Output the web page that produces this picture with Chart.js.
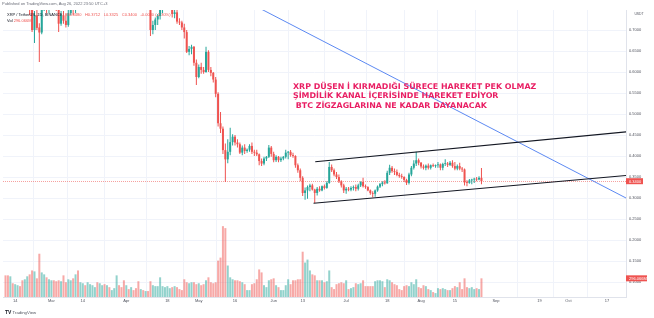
<!DOCTYPE html>
<html>
<head>
<meta charset="utf-8">
<script src="https://cdn.jsdelivr.net/npm/chart.js@4.4.1/dist/chart.umd.min.js"></script>
<style>
  body { margin: 0; background: #fff; }
  #wrap { position: relative; width: 654px; height: 318px; overflow: hidden; font-family: "Liberation Sans", Arial, sans-serif; }
  #chart { position: absolute; left: 0; top: 0; }
  .txt { position: absolute; white-space: pre; line-height: 1; }
  .dn { color: #ef5350; }
  #legend span { margin-left: 3.6px; }
  #note { left: 293px; top: 81.8px; font: bold 7.9px "DejaVu Sans", sans-serif; line-height: 9.6px; color: #e91e63; }
</style>
</head>
<body>
<div id="wrap">
  <canvas id="chart" width="654" height="318"></canvas>
  <div class="txt" style="left:2px;top:2px;font-size:4px;color:#6a6d78">Published on TradingView.com, Aug 26, 2022 23:50 UTC+3</div>
  <div class="txt" id="legend" style="left:7px;top:13px;font-size:4px;color:#131722"></div>
  <div class="txt" id="vol" style="left:7px;top:19px;font-size:4px;color:#131722"></div>
  <div class="txt" id="note">XRP DÜŞEN İ KIRMADIĞI SÜRECE HAREKET PEK OLMAZ
ŞİMDİLİK KANAL İÇERİSİNDE HAREKET EDİYOR
 BTC ZİGZAGLARINA NE KADAR DAYANACAK</div>
  <div class="txt" style="left:5px;top:310px;font-size:4.3px;color:#50535e"><b style="color:#131722;font-size:5px">TV</b> TradingView</div>
</div>
<script>
// daily candles, first one is Feb 10 2022, last one Aug 26 2022
const open = [
  .850,.808,.782,.800,.780,.810,.840,.815,.765,.775, .800,.750,.700,.735,.706,.694,.760,.770,.750,.785,
  .795,.780,.755,.715,.735,.722,.712,.740,.790,.755, .775,.760,.785,.790,.780,.800,.810,.815,.820,.810,
  .830,.845,.835,.850,.825,.830,.845,.855,.845,.835, .812,.825,.820,.830,.825,.815,.780,.790,.770,.780,
  .760,.700,.712,.725,.733,.748,.760,.770,.780,.790, .738,.742,.720,.718,.706,.695,.648,.655,.660,.622,
  .588,.612,.605,.600,.648,.605,.598,.582,.548,.478, .465,.414,.392,.410,.433,.446,.432,.428,.408,.420,
  .412,.415,.424,.410,.408,.404,.388,.382,.394,.398, .420,.405,.390,.398,.390,.394,.398,.408,.410,.402,
  .400,.378,.366,.348,.312,.318,.326,.330,.320,.312, .322,.318,.328,.324,.336,.374,.366,.356,.350,.340,
  .330,.318,.322,.320,.324,.326,.322,.330,.338,.328, .326,.318,.312,.310,.318,.327,.333,.337,.335,.360,
  .372,.364,.362,.355,.352,.350,.343,.336,.356,.372, .382,.390,.384,.375,.372,.377,.372,.378,.376,.378,
  .380,.372,.381,.382,.379,.384,.376,.370,.376,.370, .368,.337,.336,.342,.344,.345,.344,.348
];
const high = [
  .910,.835,.820,.815,.820,.850,.850,.830,.790,.810, .810,.765,.745,.760,.716,.770,.790,.785,.790,.815,
  .810,.790,.765,.745,.745,.740,.750,.800,.800,.785, .800,.790,.800,.800,.810,.825,.830,.830,.830,.845,
  .860,.850,.860,.860,.840,.850,.870,.870,.850,.850, .830,.840,.835,.840,.845,.820,.800,.800,.790,.790,
  .765,.722,.730,.738,.755,.770,.775,.785,.795,.800, .780,.750,.728,.722,.715,.700,.662,.665,.662,.630,
  .618,.622,.612,.660,.652,.612,.600,.588,.552,.505, .470,.430,.440,.467,.452,.450,.440,.432,.425,.428,
  .418,.428,.432,.415,.415,.406,.394,.398,.400,.426, .424,.410,.402,.400,.398,.400,.415,.412,.414,.408,
  .402,.382,.370,.352,.325,.330,.334,.334,.322,.326, .328,.330,.332,.340,.386,.380,.370,.362,.356,.342,
  .334,.326,.326,.328,.330,.332,.334,.340,.348,.332, .328,.320,.316,.320,.330,.336,.340,.342,.365,.379,
  .376,.370,.368,.360,.358,.352,.346,.360,.376,.390, .410,.394,.386,.380,.380,.382,.380,.382,.380,.386,
  .382,.384,.392,.386,.388,.390,.386,.380,.384,.374, .370,.342,.345,.346,.348,.350,.352,.3712
];
const low = [
  .800,.770,.770,.770,.760,.800,.800,.755,.750,.765, .735,.695,.669,.700,.624,.690,.745,.740,.740,.770,
  .770,.745,.695,.710,.715,.706,.708,.735,.735,.740, .750,.755,.760,.765,.770,.790,.790,.805,.795,.800,
  .820,.820,.825,.815,.815,.820,.830,.835,.825,.800, .795,.815,.810,.800,.810,.770,.765,.760,.765,.755,
  .686,.690,.700,.712,.725,.740,.752,.755,.770,.730, .728,.715,.712,.700,.680,.645,.640,.642,.615,.569,
  .585,.596,.596,.598,.600,.590,.575,.540,.470,.455, .405,.338,.383,.402,.425,.425,.420,.405,.402,.405,
  .408,.410,.405,.400,.400,.378,.376,.378,.388,.395, .398,.385,.386,.385,.386,.390,.394,.392,.398,.396,
  .372,.360,.340,.305,.296,.298,.316,.318,.288,.306, .315,.316,.320,.322,.334,.362,.352,.345,.336,.325,
  .312,.310,.316,.316,.318,.316,.318,.326,.325,.322, .316,.308,.302,.303,.315,.324,.328,.332,.334,.355,
  .360,.355,.352,.348,.346,.338,.331,.332,.352,.368, .376,.378,.370,.368,.366,.368,.368,.374,.372,.372,
  .366,.366,.376,.374,.376,.372,.366,.366,.366,.362, .330,.328,.334,.333,.336,.340,.342,.3325
];
const close = [
  .808,.782,.800,.780,.810,.840,.815,.765,.775,.800, .750,.700,.735,.705,.694,.760,.770,.750,.785,.795,
  .780,.755,.715,.735,.722,.712,.740,.790,.755,.775, .760,.785,.790,.780,.800,.810,.815,.820,.810,.830,
  .845,.835,.850,.825,.830,.845,.855,.845,.835,.812, .825,.820,.830,.825,.815,.780,.790,.770,.780,.760,
  .700,.712,.725,.733,.748,.760,.770,.780,.790,.738, .742,.720,.718,.706,.695,.648,.655,.660,.622,.588,
  .612,.605,.600,.648,.605,.598,.582,.548,.478,.465, .414,.392,.410,.433,.446,.432,.428,.408,.420,.412,
  .415,.424,.410,.408,.404,.388,.382,.394,.398,.420, .405,.390,.398,.390,.394,.398,.408,.410,.402,.400,
  .378,.366,.348,.312,.318,.326,.330,.320,.312,.322, .318,.328,.324,.336,.374,.366,.356,.350,.340,.330,
  .318,.322,.320,.324,.326,.322,.330,.338,.328,.326, .318,.312,.310,.318,.327,.333,.337,.335,.360,.372,
  .364,.362,.355,.352,.350,.343,.336,.356,.372,.382, .390,.384,.375,.372,.377,.372,.378,.376,.378,.380,
  .372,.381,.382,.379,.384,.376,.370,.376,.370,.368, .337,.336,.342,.344,.345,.344,.348,.340
];
// volume in millions
const volume = [
  343,343,328,218,203,187,172,265,281,328, 359,421,406,296,686,390,359,312,281,265,
  265,250,265,250,343,234,281,265,296,359, 421,234,218,187,234,203,187,156,234,218,
  187,203,187,156,109,140,343,187,156,265, 187,125,156,109,140,250,125,109,94,94,
  250,187,172,172,312,172,156,172,140,156, 172,156,125,109,281,234,218,234,234,203,
  218,187,203,265,312,234,218,234,577,624, 1123,1092,499,312,281,265,265,250,234,203,
  109,109,203,218,281,437,390,187,156,265, 281,296,187,156,109,109,187,281,203,265,
  265,281,281,718,546,593,421,359,343,265, 265,265,234,250,421,156,125,203,218,234,
  218,265,125,140,156,218,203,218,265,172, 172,172,172,250,265,265,250,156,281,265,
  234,203,187,125,109,172,187,172,234,203, 281,156,140,187,172,125,109,78,62,140,
  125,140,125,109,109,140,172,156,234,125, 296,156,140,156,125,140,125,296.066
];

const priceTicks = [0.1, 0.15, 0.2, 0.25, 0.3, 0.35, 0.4, 0.45, 0.5, 0.55, 0.6, 0.65, 0.7];
const tickDays = [4, 19, 32, 50, 67, 80, 95, 111, 123, 141, 158, 172, 186, 203, 221, 233, 249];
const tickLabels = ['14', 'Mar', '14', 'Apr', '18', 'May', '16', 'Jun', '13', 'Jul', '18', 'Aug', '15', 'Sep', '19', 'Oct', '17'];

// drawings on the chart (day index, price)
const channelTop = [{ x: 128.2, y: 0.3864 }, { x: 258, y: 0.4580 }];
const channelBottom = [{ x: 127.5, y: 0.2874 }, { x: 258, y: 0.3542 }];
const trendLine = [{ x: 103, y: 0.7583 }, { x: 258, y: 0.2965 }];

const UP = '#26a69a', DOWN = '#ef5350';
const isUp = i => close[i] >= open[i];

const last = close.length - 1;
const chg = close[last] - close[last - 1];
const f4 = v => v.toFixed(4);
document.getElementById('legend').innerHTML = 'XRP / TetherUS, 1D, BINANCE' +
  `<span class="dn">O${f4(open[last])}</span><span class="dn">H${f4(high[last])}</span>` +
  `<span class="dn">L${f4(low[last])}</span><span class="dn">C${f4(close[last])}</span>` +
  `<span class="dn">${f4(chg)} (${(chg / close[last - 1] * 100).toFixed(2)}%)</span>`;
document.getElementById('vol').innerHTML = `Vol <span class="dn">${volume[last].toFixed(3)}M</span>`;

const lastValue = {
  id: 'lastValue',
  beforeDatasetsDraw(chart) {
    const { ctx, chartArea: a, scales } = chart;
    const y = Math.round(scales.y.getPixelForValue(close[last])) + 0.5;
    ctx.save();
    ctx.strokeStyle = 'rgba(239,83,80,0.55)';
    ctx.lineWidth = 1;
    ctx.setLineDash([1, 1]);
    ctx.beginPath();
    ctx.moveTo(a.left, y);
    ctx.lineTo(a.right, y);
    ctx.stroke();
    ctx.restore();
  },
  afterDraw(chart) {
    const { ctx, chartArea: a, scales } = chart;
    const boxes = [
      [scales.y.getPixelForValue(close[last]), f4(close[last]), 17],
      [scales.vol.getPixelForValue(volume[last]), volume[last].toFixed(3) + 'M', 21]
    ];
    ctx.save();
    ctx.font = '4px "Liberation Sans"';
    ctx.textBaseline = 'middle';
    boxes.forEach(([y, text, w]) => {
      ctx.fillStyle = DOWN;
      ctx.fillRect(a.right, y - 3, w, 6);
      ctx.fillStyle = '#fff';
      ctx.fillText(text, a.right + 3, y + 0.3);
    });
    ctx.fillStyle = '#50535e';
    ctx.font = '3.4px "Liberation Sans"';
    ctx.textAlign = 'center';
    ctx.fillText('USDT', a.right + 13, 14);
    ctx.restore();
  }
};

const candles = open.map((o, i) => ({ x: i, y: [o, close[i]] }));
const wicks = open.map((o, i) => ({ x: i, y: [low[i], high[i]] }));
const vols = volume.map((v, i) => ({ x: i, y: v }));

const line = (data, color, width) => ({
  type: 'line', data, borderColor: color, borderWidth: width,
  pointRadius: 0, yAxisID: 'y', order: 0
});

new Chart(document.getElementById('chart').getContext('2d'), {
  type: 'bar',
  data: {
    datasets: [
      line(channelTop, '#131722', 1.1),
      line(channelBottom, '#131722', 1.1),
      line(trendLine, '#4a7cf0', 0.9),
      {
        data: candles, yAxisID: 'y', order: 1, grouped: false,
        barThickness: 2, minBarLength: 0.8, inflateAmount: 0,
        backgroundColor: c => isUp(c.dataIndex) ? UP : DOWN
      },
      {
        data: wicks, yAxisID: 'y', order: 2, grouped: false,
        barThickness: 1, inflateAmount: 0,
        backgroundColor: c => isUp(c.dataIndex) ? UP : DOWN
      },
      {
        data: vols, yAxisID: 'vol', order: 3, grouped: false,
        barThickness: 2, inflateAmount: 0,
        backgroundColor: c => isUp(c.dataIndex) ? 'rgba(38,166,154,0.5)' : 'rgba(239,83,80,0.5)'
      }
    ]
  },
  options: {
    responsive: false,
    animation: false,
    devicePixelRatio: 1,
    layout: { padding: { top: 10, left: 3, right: 0, bottom: 0 } },
    plugins: { legend: { display: false }, tooltip: { enabled: false } },
    scales: {
      x: {
        type: 'linear', min: -1.033, max: 256.83, offset: false,
        afterBuildTicks: s => { s.ticks = tickDays.map(v => ({ value: v })); },
        afterFit: s => { s.height = 21; },
        grid: { color: '#f0f3fa', drawTicks: false },
        border: { color: '#e0e3eb' },
        ticks: {
          autoSkip: false, maxRotation: 0, padding: 1.5, color: '#50535e',
          font: { size: 4, family: 'Liberation Sans' },
          callback: v => tickLabels[tickDays.indexOf(v)]
        }
      },
      y: {
        position: 'right', min: 0.06429, max: 0.74762,
        afterBuildTicks: s => { s.ticks = priceTicks.map(v => ({ value: v })); },
        afterFit: s => { s.width = 28; },
        grid: { color: '#f0f3fa', drawTicks: false },
        border: { color: '#e0e3eb' },
        ticks: {
          padding: 3, color: '#50535e',
          font: { size: 4, family: 'Liberation Sans' },
          callback: v => v.toFixed(4)
        }
      },
      vol: { display: false, min: 0, max: 4550 }
    }
  },
  plugins: [lastValue]
});
</script>
</body>
</html>
